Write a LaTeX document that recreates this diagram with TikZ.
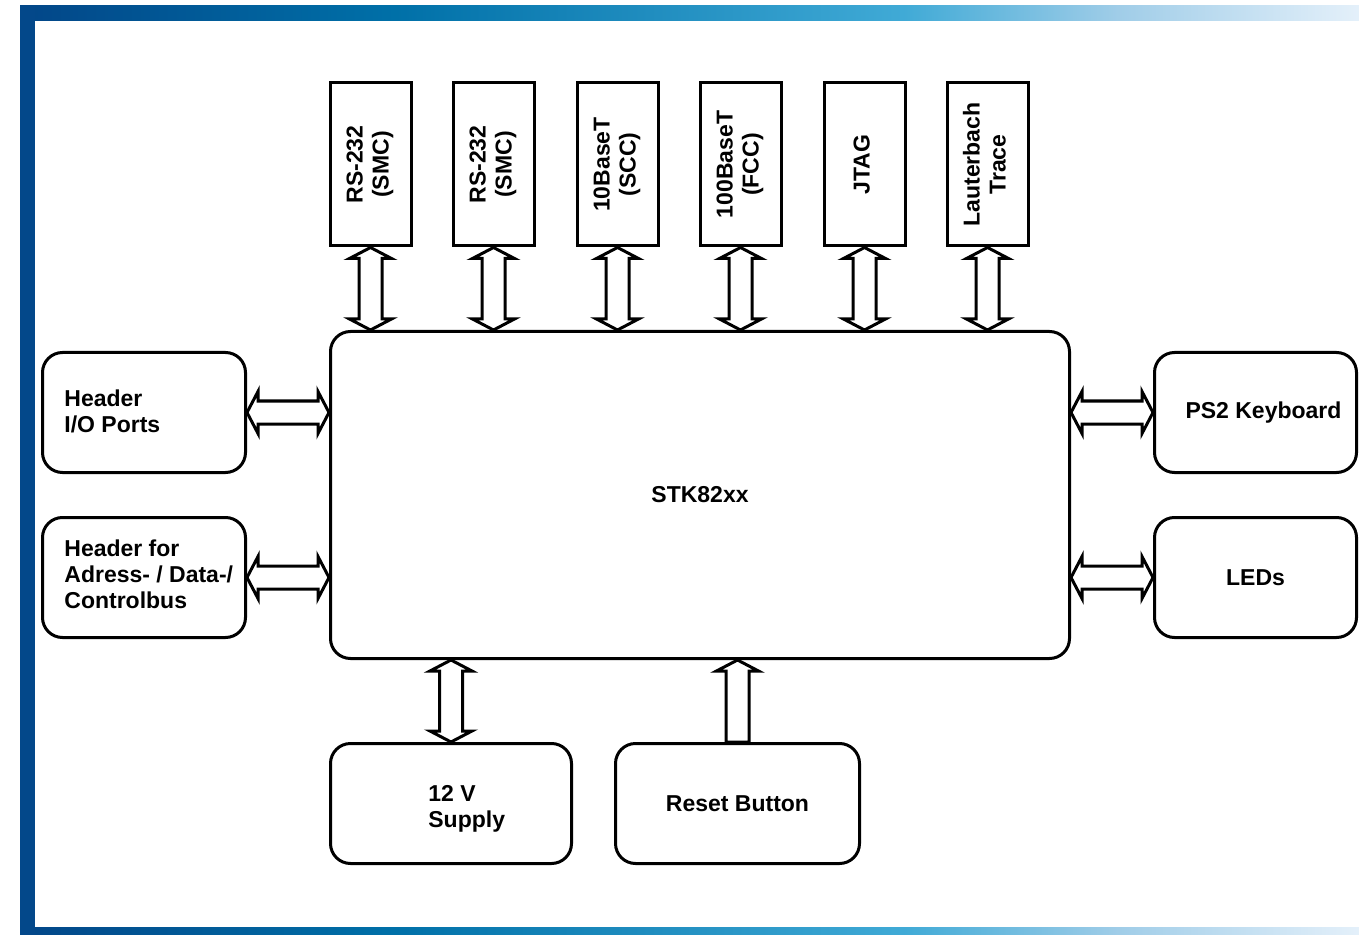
\documentclass[tikz,border=0pt]{standalone}
\usepackage{fontspec}
\setmainfont{Liberation Sans}
\usepackage{xcolor}
\usetikzlibrary{calc}

\definecolor{barA}{RGB}{2,70,136}
\definecolor{barB}{RGB}{0,112,168}
\definecolor{barC}{RGB}{64,170,214}
\definecolor{barD}{RGB}{160,205,232}
\definecolor{barE}{RGB}{228,240,250}
\definecolor{barL}{RGB}{3,72,138}
\pgfdeclarehorizontalshading{bluebar}{100bp}{color(0bp)=(barA); color(25bp)=(barA); color(39bp)=(barB); color(58bp)=(barC); color(66bp)=(barD); color(75bp)=(barE); color(100bp)=(barE)}

\newcommand{\vtxt}[1]{\rotatebox{90}{\begin{tabular}{@{}c@{}}#1\end{tabular}}}

\tikzset{
  box/.style={draw, line width=1.5pt, rounded corners=10pt, minimum width=101.5pt, minimum height=60pt, inner sep=0pt, align=center, font=\bfseries\fontsize{11.5}{13}\selectfont},
  topbox/.style={draw, line width=1.5pt, minimum width=40.5pt, minimum height=81.5pt, inner sep=0pt, font=\bfseries\fontsize{11.5}{13}\selectfont},
  lbl/.style={anchor=west, inner sep=0pt, align=left, font=\bfseries\fontsize{11.5}{13}\selectfont},
  dblarrow/.style={line width=1.5pt, to path={
    -- ($(\tikztostart)!5.5pt!(\tikztotarget)!10.5pt!90:(\tikztotarget)$)
    -- ($(\tikztostart)!5.5pt!(\tikztotarget)!5.75pt!90:(\tikztotarget)$)
    -- ($(\tikztotarget)!5.5pt!(\tikztostart)!5.75pt!-90:(\tikztostart)$)
    -- ($(\tikztotarget)!5.5pt!(\tikztostart)!10.5pt!-90:(\tikztostart)$)
    -- (\tikztotarget)
    -- ($(\tikztotarget)!5.5pt!(\tikztostart)!10.5pt!90:(\tikztostart)$)
    -- ($(\tikztotarget)!5.5pt!(\tikztostart)!5.75pt!90:(\tikztostart)$)
    -- ($(\tikztostart)!5.5pt!(\tikztotarget)!5.75pt!-90:(\tikztotarget)$)
    -- ($(\tikztostart)!5.5pt!(\tikztotarget)!10.5pt!-90:(\tikztotarget)$)
    -- cycle}},
  sglarrow/.style={line width=1.5pt, to path={
    -- ($(\tikztostart)!5.75pt!90:(\tikztotarget)$)
    -- ($(\tikztotarget)!5.5pt!(\tikztostart)!5.75pt!-90:(\tikztostart)$)
    -- ($(\tikztotarget)!5.5pt!(\tikztostart)!10.5pt!-90:(\tikztostart)$)
    -- (\tikztotarget)
    -- ($(\tikztotarget)!5.5pt!(\tikztostart)!10.5pt!90:(\tikztostart)$)
    -- ($(\tikztotarget)!5.5pt!(\tikztostart)!5.75pt!90:(\tikztostart)$)
    -- ($(\tikztostart)!5.75pt!-90:(\tikztotarget)$)
    -- cycle}}
}

\begin{document}
\begin{tikzpicture}[x=0.5pt, y=-0.5pt]
\useasboundingbox (0,0) rectangle (1359,935);
\fill[shading=bluebar] (20,6) rectangle (1359,21);
\fill[shading=bluebar] (20,927) rectangle (1359,935);
\fill[barL] (20,6) rectangle (35,935);

\node[box, minimum width=369.5pt, minimum height=163.5pt] (stk) at (700,495) {STK82xx};

\node[topbox] (rs1) at (370.5,164.5) {\vtxt{RS-232\\(SMC)}};
\node[topbox] (rs2) at (493.5,164.5) {\vtxt{RS-232\\(SMC)}};
\node[topbox] (scc) at (617.5,164.5) {\vtxt{10BaseT\\(SCC)}};
\node[topbox] (fcc) at (740.5,164.5) {\vtxt{100BaseT\\(FCC)}};
\node[topbox] (jtag) at (864.5,164.5) {\vtxt{JTAG}};
\node[topbox] (trace) at (987.5,164.5) {\vtxt{Lauterbach\\Trace}};

\node[box] (hdrio) at (144,412.5) {};
\node[lbl] (hdriotxt) at (64,411) {Header\\I/O Ports};
\node[box] (hdrbus) at (144,577.5) {};
\node[lbl] (hdrbustxt) at (64,574) {Header for\\Adress- / Data-/\\Controlbus};

\node[box, minimum width=101pt] (ps2) at (1255.5,412.5) {\hspace{8pt}PS2 Keyboard};
\node[box, minimum width=101pt] (leds) at (1255.5,577.5) {LEDs};

\node[box, minimum width=120.5pt] (supply) at (451,803.5) {};
\node[lbl] (supplytxt) at (428,809) {12 V\\Supply};
\node[box, minimum width=122pt] (reset) at (737.5,803.5) {Reset Button};

\draw[dblarrow] (rs1.south) to (rs1.south |- stk.north);
\draw[dblarrow] (rs2.south) to (rs2.south |- stk.north);
\draw[dblarrow] (scc.south) to (scc.south |- stk.north);
\draw[dblarrow] (fcc.south) to (fcc.south |- stk.north);
\draw[dblarrow] (jtag.south) to (jtag.south |- stk.north);
\draw[dblarrow] (trace.south) to (trace.south |- stk.north);
\draw[dblarrow] (hdrio.east) to (hdrio.east -| stk.west);
\draw[dblarrow] (hdrbus.east) to (hdrbus.east -| stk.west);
\draw[dblarrow] (stk.east |- ps2.west) to (ps2.west);
\draw[dblarrow] (stk.east |- leds.west) to (leds.west);
\draw[dblarrow] (stk.south -| supply.north) to (supply.north);
\draw[sglarrow] (reset.north) to (reset.north |- stk.south);
\end{tikzpicture}
\end{document}
